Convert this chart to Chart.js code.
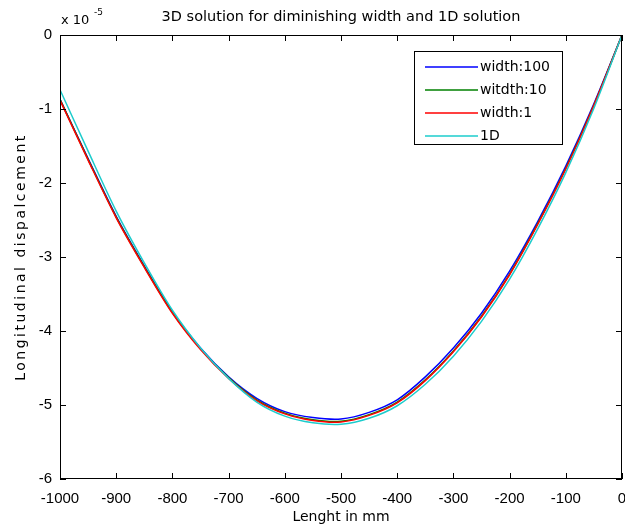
<!DOCTYPE html>
<html>
<head>
<meta charset="utf-8">
<script src="https://cdn.jsdelivr.net/npm/chart.js@4"></script>
<style>
  html, body { margin: 0; padding: 0; background: #fff; }
  #wrap { width: 625px; height: 531px; }
</style>
</head>
<body>
<div id="wrap"><canvas id="lineChart" width="625" height="531"></canvas></div>
<script>
// values are in units of 1e-5 (axis multiplier "x 10^-5")
var lengthMm = [-1000, -950, -900, -850, -800, -750, -700, -650, -600, -550, -500,
                -450, -400, -350, -300, -250, -200, -150, -100, -50, 0];

var width100 = [-0.87, -1.67, -2.45, -3.12, -3.74, -4.23, -4.62, -4.91, -5.09, -5.17, -5.19,
                -5.10, -4.93, -4.62, -4.23, -3.76, -3.19, -2.52, -1.77, -0.93, 0];
var width10  = [-0.87, -1.68, -2.46, -3.13, -3.75, -4.24, -4.63, -4.93, -5.11, -5.20, -5.22,
                -5.13, -4.96, -4.66, -4.27, -3.80, -3.23, -2.55, -1.80, -0.95, 0];
var width1   = [-0.88, -1.69, -2.47, -3.14, -3.76, -4.25, -4.64, -4.94, -5.12, -5.21, -5.23,
                -5.14, -4.97, -4.67, -4.28, -3.81, -3.24, -2.56, -1.81, -0.95, 0];
var oneD     = [-0.74, -1.57, -2.38, -3.08, -3.72, -4.23, -4.64, -4.96, -5.15, -5.24, -5.26,
                -5.18, -5.01, -4.72, -4.34, -3.87, -3.30, -2.62, -1.86, -0.99, 0];

var seriesNames = ["width:100", "witdth:10", "width:1", "1D"];
var lineColors = ["#0000ff", "#008000", "#ff0000", "#1ccccc"];

var xTicks = [-1000, -900, -800, -700, -600, -500, -400, -300, -200, -100, 0];
var yTicks = [-6, -5, -4, -3, -2, -1, 0];

var titleText = "3D solution for diminishing width and 1D solution";
var xLabel = "Lenght in mm";
var yLabel = "Longitudinal dispalcement";

var FONT = "'DejaVu Sans', sans-serif";

const toPoints = (ys) => lengthMm.map((x, i) => ({x: x, y: ys[i]}));

// matlab style box, inward ticks, title, y label, exponent, legend
const matlabBox = {
  id: 'matlabBox',
  afterDatasetsDraw(chart) {
    const ctx = chart.ctx;
    const a = chart.chartArea;
    const sx = chart.scales.x, sy = chart.scales.y;
    ctx.save();
    ctx.strokeStyle = '#000';
    ctx.lineWidth = 1;
    ctx.strokeRect(Math.round(a.left) + 0.5, Math.round(a.top) + 0.5,
                   Math.round(a.right - a.left) - 1, Math.round(a.bottom - a.top) - 1);
    ctx.beginPath();
    xTicks.forEach(v => {
      const px = Math.round(sx.getPixelForValue(v)) + 0.5;
      ctx.moveTo(px, a.bottom); ctx.lineTo(px, a.bottom - 6);
      ctx.moveTo(px, a.top); ctx.lineTo(px, a.top + 6);
    });
    yTicks.forEach(v => {
      const py = Math.round(sy.getPixelForValue(v)) + 0.5;
      ctx.moveTo(a.left, py); ctx.lineTo(a.left + 6, py);
      ctx.moveTo(a.right, py); ctx.lineTo(a.right - 6, py);
    });
    ctx.stroke();

    // legend box
    const lx = 414, ly = 51, lw = 148, lh = 93;
    ctx.fillStyle = '#fff';
    ctx.fillRect(lx, ly, lw, lh);
    ctx.strokeRect(lx + 0.5, ly + 0.5, lw, lh);
    ctx.font = "14px " + FONT;
    ctx.textBaseline = 'middle';
    ctx.textAlign = 'left';
    seriesNames.forEach((name, i) => {
      const ry = ly + 16 + i * 23;
      ctx.strokeStyle = lineColors[i];
      ctx.lineWidth = 1.6;
      ctx.beginPath();
      ctx.moveTo(425, ry); ctx.lineTo(478, ry);
      ctx.stroke();
      ctx.fillStyle = '#000';
      ctx.fillText(name, 480, ry);
    });

    // title over the plot area
    const cx = (a.left + a.right) / 2;
    ctx.fillStyle = '#000';
    ctx.textAlign = 'center';
    ctx.font = "14.5px " + FONT;
    ctx.fillText(titleText, cx, 17);

    // y axis label, spaced out like the original
    ctx.save();
    ctx.translate(21, (a.top + a.bottom) / 2);
    ctx.rotate(-Math.PI / 2);
    ctx.font = "14px " + FONT;
    ctx.letterSpacing = "2.5px";
    ctx.fillText(yLabel, 0, 0);
    ctx.restore();

    // exponent label
    ctx.textAlign = 'left';
    ctx.font = "13px " + FONT;
    ctx.fillText("x 10", 61, 21);
    ctx.font = "9px " + FONT;
    ctx.fillText("-5", 94, 13);
    ctx.restore();
  }
};

const linePlot = () => {
  var ctx = document.getElementById('lineChart').getContext('2d');

  var sets = [width100, width10, width1, oneD].map((ys, i) => ({
    label: seriesNames[i],
    data: toPoints(ys),
    borderColor: lineColors[i],
    backgroundColor: lineColors[i],
    borderWidth: 1.5,
    pointRadius: 0,
    tension: 0.3,
    fill: false,
    order: 3 - i
  }));

  new Chart(ctx, {
    type: "line",
    data: { datasets: sets },
    options: {
      responsive: false,
      animation: false,
      layout: { padding: { left: 0, right: 3, top: 35, bottom: 0 } },
      plugins: {
        legend: { display: false },
        tooltip: { enabled: false },
        title: { display: false }
      },
      scales: {
        x: {
          type: 'linear',
          min: -1000, max: 0,
          afterFit: (s) => { s.height = 52; s.paddingLeft = 0; s.paddingRight = 0; },
          afterBuildTicks: (s) => { s.ticks = xTicks.map(v => ({value: v})); },
          grid: { display: false, drawTicks: false },
          border: { display: false },
          ticks: {
            color: '#000',
            padding: 11,
            maxRotation: 0,
            autoSkip: false,
            font: { family: "'Liberation Sans', Arial, sans-serif", size: 15 },
            callback: (v) => String(v)
          },
          title: {
            display: true,
            text: xLabel,
            color: '#000',
            font: { family: FONT, size: 14 },
            padding: { top: 0, bottom: 5.6 }
          }
        },
        y: {
          min: -6, max: 0,
          afterFit: (s) => { s.width = 60; s.paddingTop = 0; s.paddingBottom = 0; },
          afterBuildTicks: (s) => { s.ticks = yTicks.map(v => ({value: v})); },
          grid: { display: false, drawTicks: false },
          border: { display: false },
          ticks: {
            color: '#000',
            padding: 8,
            autoSkip: false,
            font: { family: "'Liberation Sans', Arial, sans-serif", size: 15 },
            callback: (v) => String(v)
          }
        }
      }
    },
    plugins: [matlabBox]
  });
}

linePlot();
</script>
</body>
</html>
